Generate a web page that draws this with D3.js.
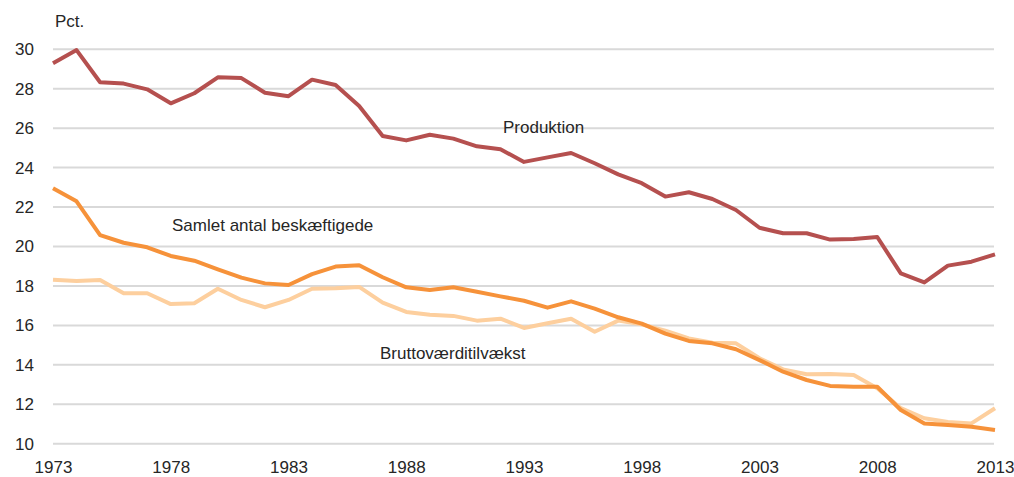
<!DOCTYPE html>
<html>
<head>
<meta charset="utf-8">
<script src="https://cdn.jsdelivr.net/npm/d3@7"></script>
<style>
  html, body { margin: 0; padding: 0; background: #fff; }
  svg { display: block; font-family: "Liberation Sans", Arial, sans-serif; }
</style>
</head>
<body>
<svg id="chart" width="1014" height="477"></svg>
<script>
const years = d3.range(1973, 2014);
const produktion = [29.29, 29.96, 28.33, 28.26, 27.97, 27.26, 27.77, 28.58, 28.54, 27.80,
  27.62, 28.46, 28.19, 27.12, 25.60, 25.38, 25.67, 25.47, 25.08, 24.93,
  24.29, 24.52, 24.74, 24.22, 23.66, 23.21, 22.53, 22.75, 22.41, 21.85,
  20.95, 20.67, 20.67, 20.35, 20.38, 20.48, 18.64, 18.18, 19.03, 19.23, 19.60];
const beskaeftigede = [22.95, 22.29, 20.58, 20.19, 19.96, 19.52, 19.28, 18.84, 18.42, 18.13,
  18.05, 18.60, 18.98, 19.05, 18.44, 17.93, 17.79, 17.93, 17.71, 17.47,
  17.25, 16.90, 17.22, 16.85, 16.41, 16.09, 15.58, 15.21, 15.09, 14.79,
  14.24, 13.65, 13.23, 12.93, 12.89, 12.89, 11.71, 11.03, 10.95, 10.86, 10.70];
const bvt = [18.32, 18.25, 18.30, 17.63, 17.63, 17.08, 17.12, 17.86, 17.29, 16.92,
  17.29, 17.86, 17.88, 17.95, 17.15, 16.68, 16.54, 16.48, 16.24, 16.34,
  15.87, 16.11, 16.34, 15.68, 16.24, 16.05, 15.73, 15.34, 15.12, 15.09,
  14.33, 13.77, 13.52, 13.53, 13.48, 12.81, 11.80, 11.29, 11.10, 11.03, 11.80];
const yTicks = [10, 12, 14, 16, 18, 20, 22, 24, 26, 28, 30];
const xTicks = [1973, 1978, 1983, 1988, 1993, 1998, 2003, 2008, 2013];
const seriesNames = ["Produktion", "Samlet antal beskæftigede", "Bruttoværditilvækst"];
const unitLabel = "Pct.";

const FS = 17;
const svg = d3.select("#chart");
const x = d3.scaleLinear().domain([1973, 2013]).range([53, 995]);
const y = d3.scaleLinear().domain([10, 30]).range([443.7, 49.3]);

// gridlines
svg.append("g").selectAll("line").data(yTicks).join("line")
  .attr("x1", 53).attr("x2", 994)
  .attr("y1", d => y(d)).attr("y2", d => y(d))
  .attr("stroke", "#d9d9d9").attr("stroke-width", 2);

// y axis
const yAxis = svg.append("g").attr("transform", "translate(34,0)")
  .call(d3.axisLeft(y).tickValues(yTicks).tickSize(0).tickPadding(0));
yAxis.select(".domain").remove();
yAxis.selectAll("text").attr("font-size", FS).attr("fill", "#262626")
  .attr("font-family", "Liberation Sans, Arial, sans-serif");

// x axis
const xAxis = svg.append("g").attr("transform", "translate(0,457)")
  .call(d3.axisBottom(x).tickValues(xTicks).tickFormat(d3.format("d")).tickSize(0).tickPadding(4));
xAxis.select(".domain").remove();
xAxis.selectAll("text").attr("font-size", FS).attr("fill", "#262626")
  .attr("font-family", "Liberation Sans, Arial, sans-serif");

const line = d3.line().x((d, i) => x(years[i])).y(d => y(d));
const series = [
  {values: bvt, color: "#fdcf9e"},
  {values: beskaeftigede, color: "#f6923a"},
  {values: produktion, color: "#b5504f"}
];
svg.append("g").selectAll("path").data(series).join("path")
  .attr("d", d => line(d.values))
  .attr("fill", "none")
  .attr("stroke", d => d.color)
  .attr("stroke-width", 4)
  .attr("stroke-linejoin", "round");

// labels
const labels = [
  {text: unitLabel, x: 55, y: 27},
  {text: seriesNames[0], x: 503, y: 133},
  {text: seriesNames[1], x: 172, y: 231},
  {text: seriesNames[2], x: 380, y: 359}
];
svg.append("g").selectAll("text").data(labels).join("text")
  .attr("x", d => d.x).attr("y", d => d.y)
  .attr("font-size", FS).attr("fill", "#262626")
  .text(d => d.text);
</script>
</body>
</html>
